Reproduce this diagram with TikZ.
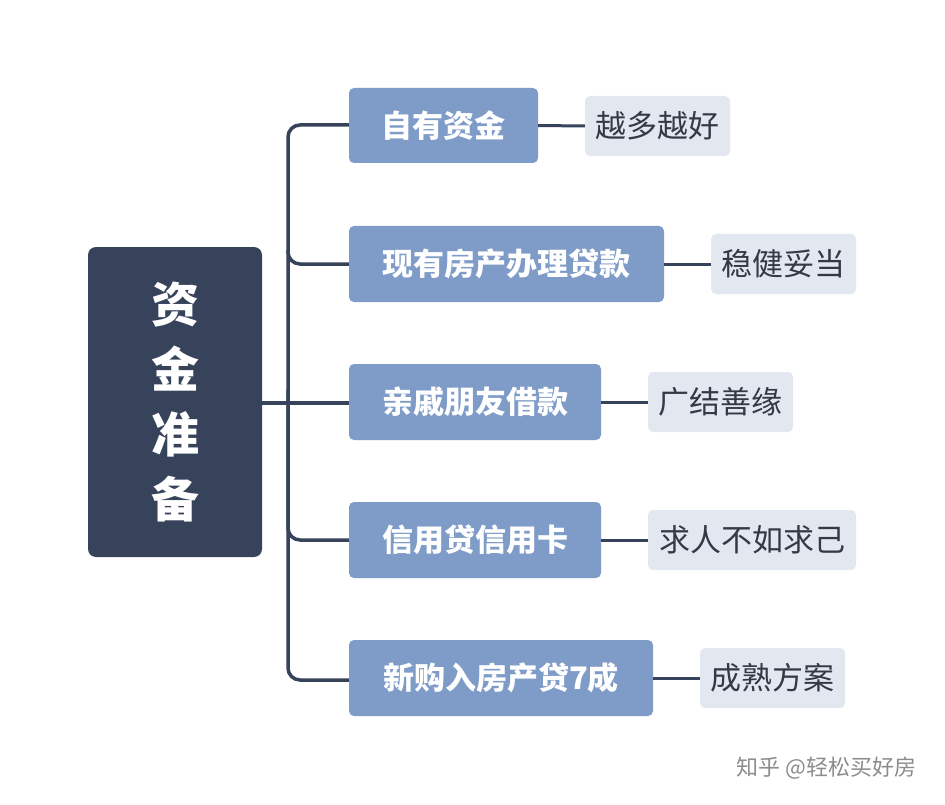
\documentclass[tikz,border=0pt]{standalone}
\usepackage{fontspec}
\setmainfont{Noto Sans CJK SC}
\begin{document}
\begin{tikzpicture}[x=1pt,y=-1pt,
 line/.style={draw=dark,line width=3.5pt},
 l1/.style={fill=mid,rounded corners=5pt,text=white,font=\bfseries\fontsize{31}{35}\selectfont,inner sep=0pt},
 l2/.style={fill=light,rounded corners=5pt,text=txt,font=\fontsize{31}{35}\selectfont,inner sep=0pt}]
\definecolor{dark}{HTML}{36435A}
\definecolor{mid}{HTML}{7F9CC8}
\definecolor{light}{HTML}{E3E8F0}
\definecolor{txt}{HTML}{333A45}
\useasboundingbox (0,0) rectangle (945,805);
\fill[white] (0,0) rectangle (945,805);
% trunk
\draw[line,rounded corners=12pt] (350,125) -- (288,125) -- (288,680) -- (350,680);
\draw[line] (262,403) -- (350,403);
\draw[line,rounded corners=12pt] (288,390) -- (288,540) -- (350,540);
\draw[line,rounded corners=12pt] (288,250) -- (288,264) -- (350,264);
% root
\node[fill=dark,rounded corners=8pt,minimum width=174pt,minimum height=310pt,inner sep=0pt] (root) at (175,402) {};
\node[text=white,font=\bfseries\fontsize{48}{65}\selectfont,align=center] (rt) at (175,402) {资\\金\\准\\备};
% level 1
\node[l1,minimum width=189pt,minimum height=75pt] (a1) at (443.5,125.5) {自有资金};
\node[l1,minimum width=315pt,minimum height=76pt] (a2) at (506.5,264) {现有房产办理贷款};
\node[l1,minimum width=252pt,minimum height=76pt] (a3) at (475,402) {亲戚朋友借款};
\node[l1,minimum width=252pt,minimum height=76pt] (a4) at (475,540) {信用贷信用卡};
\node[l1,minimum width=304pt,minimum height=76pt] (a5) at (501,678) {新购入房产贷7成};
% leaves
\node[l2,minimum width=145pt,minimum height=60pt] (b1) at (657.5,126) {越多越好};
\node[l2,minimum width=145pt,minimum height=60pt] (b2) at (783.5,264) {稳健妥当};
\node[l2,minimum width=145pt,minimum height=60pt] (b3) at (720.5,402) {广结善缘};
\node[l2,minimum width=208pt,minimum height=60pt] (b4) at (752,540) {求人不如求己};
\node[l2,minimum width=145pt,minimum height=60pt] (b5) at (772.5,678) {成熟方案};
\foreach \i in {1,...,5} \draw[line,line width=3pt] (a\i.east) -- (b\i.west);
\node[text=black!45,font=\fontsize{22}{26}\selectfont,anchor=east] (wm) at (920,768) {知乎 @轻松买好房};
\end{tikzpicture}
\end{document}
